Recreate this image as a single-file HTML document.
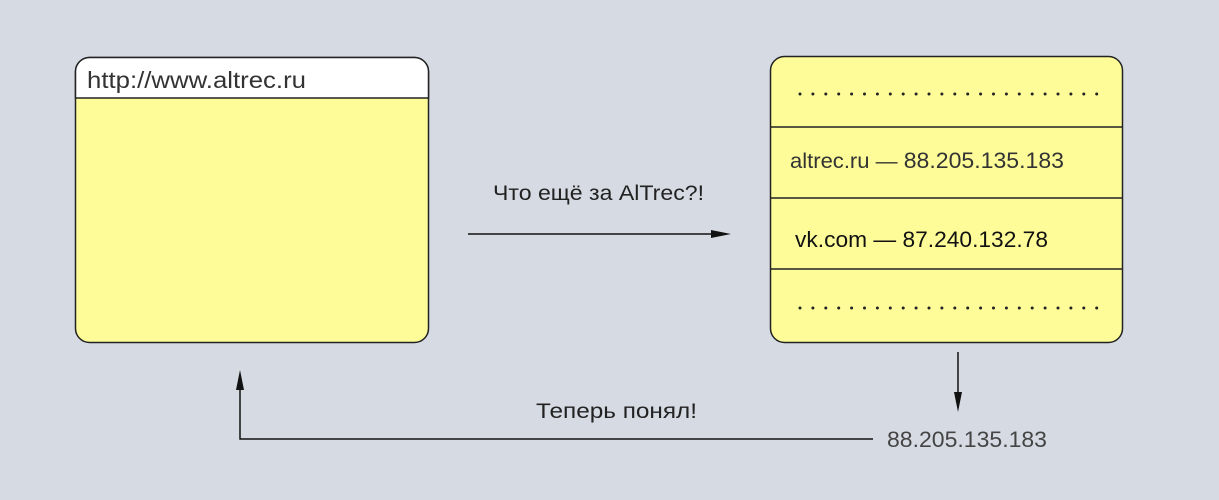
<!DOCTYPE html>
<html><head><meta charset="utf-8"><style>
html,body{margin:0;padding:0;background:#d6dbe3;}
svg{display:block;}
text{font-family:"Liberation Sans",sans-serif;}
</style></head><body>
<svg width="1219" height="500" viewBox="0 0 1219 500" xmlns="http://www.w3.org/2000/svg">
<rect width="1219" height="500" fill="#d6dbe3"/>
<!-- left browser -->
<rect x="75.5" y="57.5" width="353" height="285" rx="14" fill="#fdfc98" stroke="#222" stroke-width="1.5"/>
<path d="M75.5,98 V71.5 a14,14 0 0 1 14,-14 H414.5 a14,14 0 0 1 14,14 V98 z" fill="#fff" stroke="#222" stroke-width="1.5"/>
<text x="87" y="88" font-size="23" fill="#333" textLength="219" lengthAdjust="spacingAndGlyphs">http://www.altrec.ru</text>
<!-- right table -->
<rect x="770.5" y="56.5" width="352" height="286" rx="14" fill="#fdfc98" stroke="#222" stroke-width="1.5"/>
<line x1="770" y1="127" x2="1123" y2="127" stroke="#222" stroke-width="1.5"/>
<line x1="770" y1="198" x2="1123" y2="198" stroke="#222" stroke-width="1.5"/>
<line x1="770" y1="269" x2="1123" y2="269" stroke="#222" stroke-width="1.5"/>
<line x1="800" y1="94" x2="1097" y2="94" stroke="#222" stroke-width="3" stroke-dasharray="0 12.9" stroke-linecap="round"/>
<line x1="800" y1="308" x2="1097" y2="308" stroke="#222" stroke-width="3" stroke-dasharray="0 12.9" stroke-linecap="round"/>
<text x="790" y="168" font-size="21" fill="#333" textLength="274" lengthAdjust="spacingAndGlyphs">altrec.ru — <tspan font-size="22">88.205.135.183</tspan></text>
<text x="795" y="247" font-size="22" fill="#111" textLength="253" lengthAdjust="spacingAndGlyphs">vk.com — 87.240.132.78</text>
<!-- arrows -->
<text x="493" y="200" font-size="21" fill="#222" textLength="211" lengthAdjust="spacingAndGlyphs">Что ещё за AlTrec?!</text>
<line x1="468" y1="234" x2="715" y2="234" stroke="#111" stroke-width="1.5"/>
<polygon points="711,230 731,234 711,238" fill="#111"/>
<line x1="958" y1="352" x2="958" y2="395" stroke="#111" stroke-width="1.5"/>
<polygon points="954,392 958,412 962,392" fill="#111"/>
<polyline points="873,439 240,439 240,385" fill="none" stroke="#111" stroke-width="1.5"/>
<polygon points="236,390 240,370 244,390" fill="#111"/>
<text x="536" y="418" font-size="21" fill="#222" textLength="161" lengthAdjust="spacingAndGlyphs">Теперь понял!</text>
<text x="887" y="447" font-size="22" fill="#444" textLength="160" lengthAdjust="spacingAndGlyphs">88.205.135.183</text>
</svg>
</body></html>
